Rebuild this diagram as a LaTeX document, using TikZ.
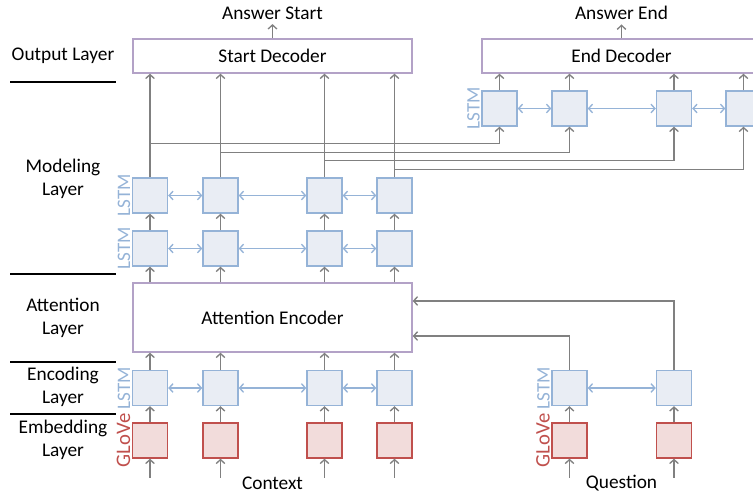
\documentclass[tikz,border=0pt]{standalone}
\usepackage{fontspec}
\setmainfont{Carlito}
\usepackage{xcolor}
\usepackage{tikz}
\usetikzlibrary{arrows.meta}
\definecolor{lstmblue}{RGB}{149,179,215}
\definecolor{lstmfill}{RGB}{233,237,244}
\definecolor{glovered}{RGB}{192,80,77}
\definecolor{glovefill}{RGB}{242,220,219}
\definecolor{decoderpurple}{RGB}{179,162,199}
\definecolor{wiregray}{RGB}{128,128,128}
\tikzset{%
  lstm/.style={rectangle, draw=lstmblue, fill=lstmfill, line width=1pt, minimum size=26.25pt, inner sep=0pt},
  glove/.style={rectangle, draw=glovered, fill=glovefill, line width=1pt, minimum size=26.25pt, inner sep=0pt},
  decoder/.style={rectangle, draw=decoderpurple, fill=white, line width=1pt, minimum width=209.25pt, minimum height=25.5pt},
  encoder/.style={decoder, minimum height=51.75pt},
  layername/.style={align=center, font=\fontsize{14.5}{17.5}\selectfont},
  lstmlabel/.style={rotate=90, anchor=south, inner sep=1pt, text=lstmblue, font=\fontsize{14.3}{16}\selectfont},
  glovelabel/.style={lstmlabel, text=glovered, font=\fontsize{15.5}{16}\selectfont},
  barb/.tip={Straight Barb[length=3pt, width=6.5pt, line width=1pt]},
  wire/.style={draw=wiregray, line width=1pt, -barb},
  bilink/.style={draw=lstmblue, line width=1pt, barb-barb},
  separator/.style={draw=black, line width=1pt}
}
\begin{document}
\begin{tikzpicture}[x=0.75pt, y=-0.75pt, font=\fontsize{14.5}{17.5}\selectfont]
        \useasboundingbox (0,0) rectangle (753,492);

        % layer names on the left
        \node [layername] (lout) at (63,56)  {Output Layer};
        \node [layername] (lmod) at (63,179) {Modeling\\Layer};
        \node [layername] (latt) at (63,318) {Attention\\Layer};
        \node [layername] (lenc) at (63,387) {Encoding\\Layer};
        \node [layername] (lemb) at (63,440) {Embedding\\Layer};
        \draw [separator] (10,82) -- (116,82);
        \draw [separator] (10,274) -- (116,274);
        \draw [separator] (10,362) -- (116,362);
        \draw [separator] (10,414) -- (116,414);

        % big boxes
        \node [decoder] (sdec) at (272.5,56)    {Start Decoder};
        \node [decoder] (edec) at (621.5,56)    {End Decoder};
        \node [encoder] (aenc) at (272.5,317.5) {Attention Encoder};
        \node (astart) at (272.5,13)  {Answer Start};
        \node (aend)   at (621.5,13)  {Answer End};
        \node (ctx)    at (272.5,483) {Context};
        \node (qst)    at (621.5,483) {Question};

        % context columns
        \node [glove] (cg1) at (150,440.5)   {};
        \node [glove] (cg2) at (220.5,440.5) {};
        \node [glove] (cg3) at (324.5,440.5) {};
        \node [glove] (cg4) at (394.5,440.5) {};
        \node [lstm]  (ce1) at (150,388)     {};
        \node [lstm]  (ce2) at (220.5,388)   {};
        \node [lstm]  (ce3) at (324.5,388)   {};
        \node [lstm]  (ce4) at (394.5,388)   {};
        \node [lstm]  (ml1) at (150,248.5)   {};
        \node [lstm]  (ml2) at (220.5,248.5) {};
        \node [lstm]  (ml3) at (324.5,248.5) {};
        \node [lstm]  (ml4) at (394.5,248.5) {};
        \node [lstm]  (mu1) at (150,195.5)   {};
        \node [lstm]  (mu2) at (220.5,195.5) {};
        \node [lstm]  (mu3) at (324.5,195.5) {};
        \node [lstm]  (mu4) at (394.5,195.5) {};

        % end decoder lstm
        \node [lstm]  (el1) at (499.5,108.5) {};
        \node [lstm]  (el2) at (569.5,108.5) {};
        \node [lstm]  (el3) at (674,108.5)   {};
        \node [lstm]  (el4) at (743.5,108.5) {};

        % question columns
        \node [glove] (qg1) at (569.5,440.5) {};
        \node [glove] (qg2) at (674,440.5)   {};
        \node [lstm]  (qe1) at (569.5,388)   {};
        \node [lstm]  (qe2) at (674,388)     {};

        % row labels
        \node [glovelabel] (lcg) at (cg1.west) {GLoVe};
        \node [lstmlabel]  (lce) at (ce1.west) {LSTM};
        \node [lstmlabel]  (lml) at (ml1.west) {LSTM};
        \node [lstmlabel]  (lmu) at (mu1.west) {LSTM};
        \node [lstmlabel]  (lel) at (el1.west) {LSTM};
        \node [glovelabel] (lqg) at (qg1.west) {GLoVe};
        \node [lstmlabel]  (lqe) at (qe1.west) {LSTM};

        % inputs
        \draw [wire] (cg1.south) ++(0,19) -- (cg1.south);
        \draw [wire] (cg2.south) ++(0,19) -- (cg2.south);
        \draw [wire] (cg3.south) ++(0,19) -- (cg3.south);
        \draw [wire] (cg4.south) ++(0,19) -- (cg4.south);
        \draw [wire] (qg1.south) ++(0,19) -- (qg1.south);
        \draw [wire] (qg2.south) ++(0,19) -- (qg2.south);

        % embedding -> encoding -> attention
        \draw [wire] (cg1) -- (ce1);
        \draw [wire] (cg2) -- (ce2);
        \draw [wire] (cg3) -- (ce3);
        \draw [wire] (cg4) -- (ce4);
        \draw [wire] (qg1) -- (qe1);
        \draw [wire] (qg2) -- (qe2);
        \draw [wire] (ce1.north) -- (aenc.south -| ce1.north);
        \draw [wire] (ce2.north) -- (aenc.south -| ce2.north);
        \draw [wire] (ce3.north) -- (aenc.south -| ce3.north);
        \draw [wire] (ce4.north) -- (aenc.south -| ce4.north);
        \draw [wire] (qe1.north) |- ([yshift=-13.9pt]aenc.east);
        \draw [wire] (qe2.north) |- ([yshift=12.4pt]aenc.east);

        % attention -> modeling -> start decoder
        \draw [wire] (aenc.north -| ml1.south) -- (ml1.south);
        \draw [wire] (aenc.north -| ml2.south) -- (ml2.south);
        \draw [wire] (aenc.north -| ml3.south) -- (ml3.south);
        \draw [wire] (aenc.north -| ml4.south) -- (ml4.south);
        \draw [wire] (ml1) -- (mu1);
        \draw [wire] (ml2) -- (mu2);
        \draw [wire] (ml3) -- (mu3);
        \draw [wire] (ml4) -- (mu4);
        \draw [wire] (mu1.north) -- (sdec.south -| mu1.north);
        \draw [wire] (mu2.north) -- (sdec.south -| mu2.north);
        \draw [wire] (mu3.north) -- (sdec.south -| mu3.north);
        \draw [wire] (mu4.north) -- (sdec.south -| mu4.north);

        % modeling -> end decoder lstm
        \draw [wire] (mu1.north) ++(0,-34) -| (el1.south);
        \draw [wire] (mu2.north) ++(0,-25) -| (el2.south);
        \draw [wire] (mu3.north) ++(0,-17) -| (el3.south);
        \draw [wire] (mu4.north) ++(0,-8)  -| (el4.south);
        \draw [wire] (el1.north) -- (edec.south -| el1.north);
        \draw [wire] (el2.north) -- (edec.south -| el2.north);
        \draw [wire] (el3.north) -- (edec.south -| el3.north);
        \draw [wire] (el4.north) -- (edec.south -| el4.north);

        % outputs
        \draw [wire] (sdec) -- (astart);
        \draw [wire] (edec) -- (aend);

        % bidirectional links
        \draw [bilink] (ce1) -- (ce2);
        \draw [bilink] (ce2) -- (ce3);
        \draw [bilink] (ce3) -- (ce4);
        \draw [bilink] (ml1) -- (ml2);
        \draw [bilink] (ml2) -- (ml3);
        \draw [bilink] (ml3) -- (ml4);
        \draw [bilink] (mu1) -- (mu2);
        \draw [bilink] (mu2) -- (mu3);
        \draw [bilink] (mu3) -- (mu4);
        \draw [bilink] (el1) -- (el2);
        \draw [bilink] (el2) -- (el3);
        \draw [bilink] (el3) -- (el4);
        \draw [bilink] (qe1) -- (qe2);
    \end{tikzpicture}
\end{document}
